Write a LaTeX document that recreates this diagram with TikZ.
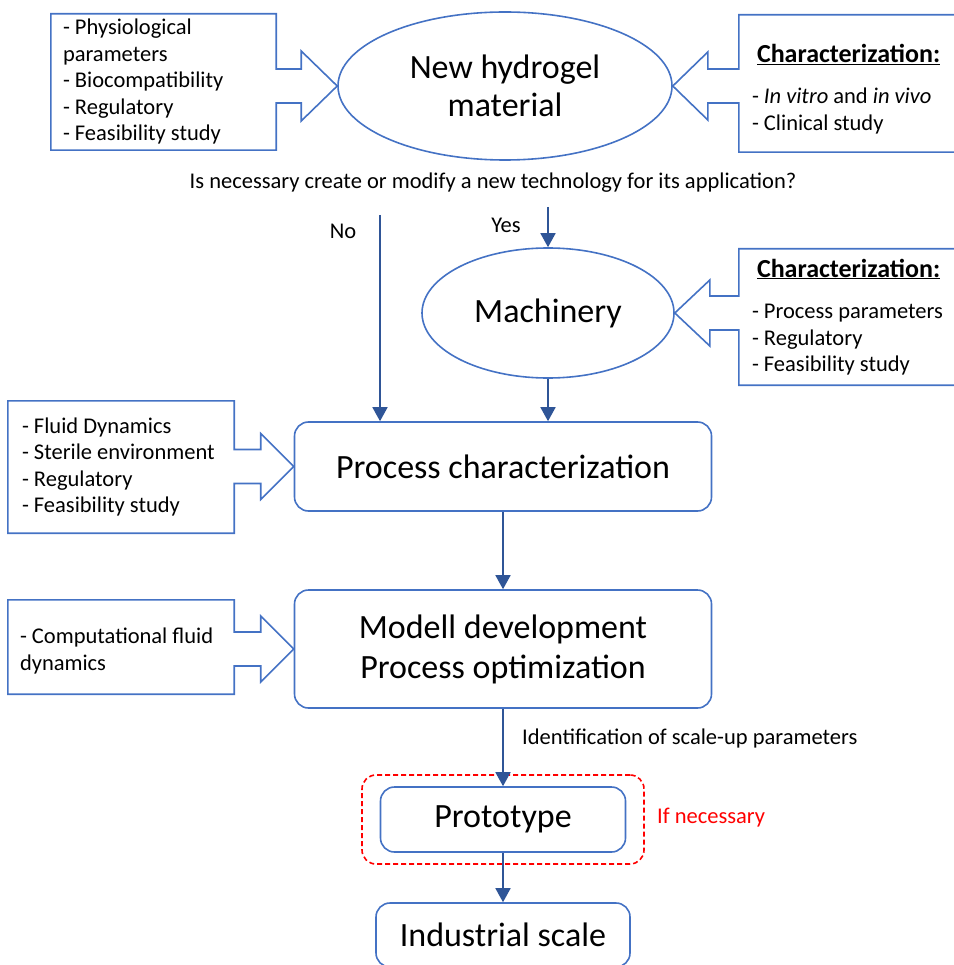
\documentclass[tikz,border=0pt]{standalone}
\usepackage{fontspec}
\setmainfont{Carlito}
\usetikzlibrary{shapes.geometric,arrows.meta,calc}
\definecolor{boxblue}{HTML}{4472C4}
\definecolor{arrowblue}{HTML}{2F5597}

\begin{document}
\begin{tikzpicture}[x=1pt, y=-1pt,
    stage/.style ={rectangle, rounded corners=14pt, draw=boxblue, line width=1.6pt, align=center, inner sep=0pt, font=\fontsize{34}{40}\selectfont},
    oval/.style ={ellipse, draw=boxblue, line width=1.6pt, align=center, inner sep=0pt, font=\fontsize{34}{38}\selectfont},
    note/.style ={rectangle, align=flush left, inner ysep=0pt, font=\fontsize{22.5}{26.5}\selectfont},
    callout/.style ={draw=boxblue, line width=1.6pt, line join=miter},
    flow/.style ={draw=arrowblue, line width=1.6pt, -{Triangle[width=15pt,length=14pt]}},
    remark/.style ={inner sep=0pt, font=\fontsize{22.5}{26}\selectfont}]
  \useasboundingbox (0,0) rectangle (953,965);

  % main stages
  \node[oval, minimum width=334pt, minimum height=148pt] (hydrogel) at (505,86) {New hydrogel\\material};
  \node[oval, minimum width=252pt, minimum height=130pt] (machinery) at (548,313) {Machinery};
  \node[stage, minimum width=417pt, minimum height=89pt] (process) at (503,466.5) {Process characterization};
  \node[stage, minimum width=417pt, minimum height=118pt] (modell) at (503,649) {Modell development\\Process optimization};
  \node[stage, rounded corners=14pt, draw=red, dashed, dash pattern=on 5pt off 3pt, minimum width=282pt, minimum height=89pt] (frame) at (503,819.5) {};
  \node[stage, minimum width=245pt, minimum height=65pt] (proto) at (503,819.5) {Prototype};
  \node[stage, minimum width=254pt, minimum height=64pt] (industrial) at (503,935) {Industrial scale};

  % side notes
  \node[note, inner xsep=12pt, text width=201pt, minimum height=136pt] (phys) at (163.5,82) {- Physiological\\parameters\\- Biocompatibility\\- Regulatory\\- Feasibility study};
  \node[note, inner xsep=13pt, text width=220pt, minimum height=137pt] (charmat) at (862,83.5) {\rule{0pt}{29pt}\hspace*{5pt}\underline{\textbf{\fontsize{26}{30}\selectfont Characterization:}}\\[15pt]- \textit{In vitro} and \textit{in vivo}\\- Clinical study};
  \node[note, inner xsep=13pt, text width=220pt, minimum height=136pt] (charmach) at (862,317) {\hspace*{5pt}\underline{\textbf{\fontsize{26}{30}\selectfont Characterization:}}\\[15pt]- Process parameters\\- Regulatory\\- Feasibility study};
  \node[note, inner xsep=14pt, text width=198pt, minimum height=132pt] (fluid) at (121,467) {- Fluid Dynamics\\- Sterile environment\\- Regulatory\\- Feasibility study};
  \node[note, inner xsep=12pt, text width=202pt, minimum height=94pt] (comp) at (121,647) {\rule{0pt}{24pt}- Computational fluid\\dynamics};

  % labels
  \node[remark] (question) at (493,183) {Is necessary create or modify a new technology for its application?};
  \node[remark] (no) at (343,231) {No};
  \node[remark] (yes) at (506,225) {Yes};
  \node[remark, anchor=west] (scaleup) at (522,738) {Identification of scale-up parameters};
  \node[remark, anchor=west, text=red] (ifnec) at (657,818) {If necessary};

  % callout arrows
  \draw[callout] ($(phys.east |- hydrogel.west)+(0,-17)$) -- ($(hydrogel.west)+(-36,-17)$) -- ($(hydrogel.west)+(-36,-35)$) -- (hydrogel.west)
    -- ($(hydrogel.west)+(-36,35)$) -- ($(hydrogel.west)+(-36,17)$) -- ($(phys.east |- hydrogel.west)+(0,17)$)
    -- (phys.south east) -- (phys.south west) -- (phys.north west) -- (phys.north east) -- cycle;
  \draw[callout] ($(charmat.west |- hydrogel.east)+(0,-17)$) -- ($(hydrogel.east)+(35,-17)$) -- ($(hydrogel.east)+(35,-34)$) -- (hydrogel.east)
    -- ($(hydrogel.east)+(35,34)$) -- ($(hydrogel.east)+(35,17)$) -- ($(charmat.west |- hydrogel.east)+(0,17)$)
    -- (charmat.south west) -- (charmat.south east) -- (charmat.north east) -- (charmat.north west) -- cycle;
  \draw[callout] ($(charmach.west |- machinery.east)+(0,-17)$) -- ($(machinery.east)+(35,-17)$) -- ($(machinery.east)+(35,-33)$) -- (machinery.east)
    -- ($(machinery.east)+(35,33)$) -- ($(machinery.east)+(35,17)$) -- ($(charmach.west |- machinery.east)+(0,17)$)
    -- (charmach.south west) -- (charmach.south east) -- (charmach.north east) -- (charmach.north west) -- cycle;
  \draw[callout] ($(fluid.east |- process.west)+(0,-17)$) -- ($(process.west)+(-33,-17)$) -- ($(process.west)+(-33,-33)$) -- (process.west)
    -- ($(process.west)+(-33,33)$) -- ($(process.west)+(-33,17)$) -- ($(fluid.east |- process.west)+(0,17)$)
    -- (fluid.south east) -- (fluid.south west) -- (fluid.north west) -- (fluid.north east) -- cycle;
  \draw[callout] ($(comp.east |- modell.west)+(0,-17)$) -- ($(modell.west)+(-33,-17)$) -- ($(modell.west)+(-33,-33)$) -- (modell.west)
    -- ($(modell.west)+(-33,33)$) -- ($(modell.west)+(-33,17)$) -- ($(comp.east |- modell.west)+(0,17)$)
    -- (comp.south east) -- (comp.south west) -- (comp.north west) -- (comp.north east) -- cycle;

  % flow arrows
  \coordinate (yestop) at (548,207);
  \coordinate (notop) at (380,215);
  \draw[flow] (yestop) -- (machinery.north);
  \draw[flow] (notop) -- (notop |- process.north);
  \draw[flow] (machinery.south) -- (machinery.south |- process.north);
  \draw[flow] (process.south) -- (modell.north);
  \draw[flow] (modell.south) -- (proto.north);
  \draw[flow] (proto.south) -- (industrial.north);
\end{tikzpicture}
\end{document}
